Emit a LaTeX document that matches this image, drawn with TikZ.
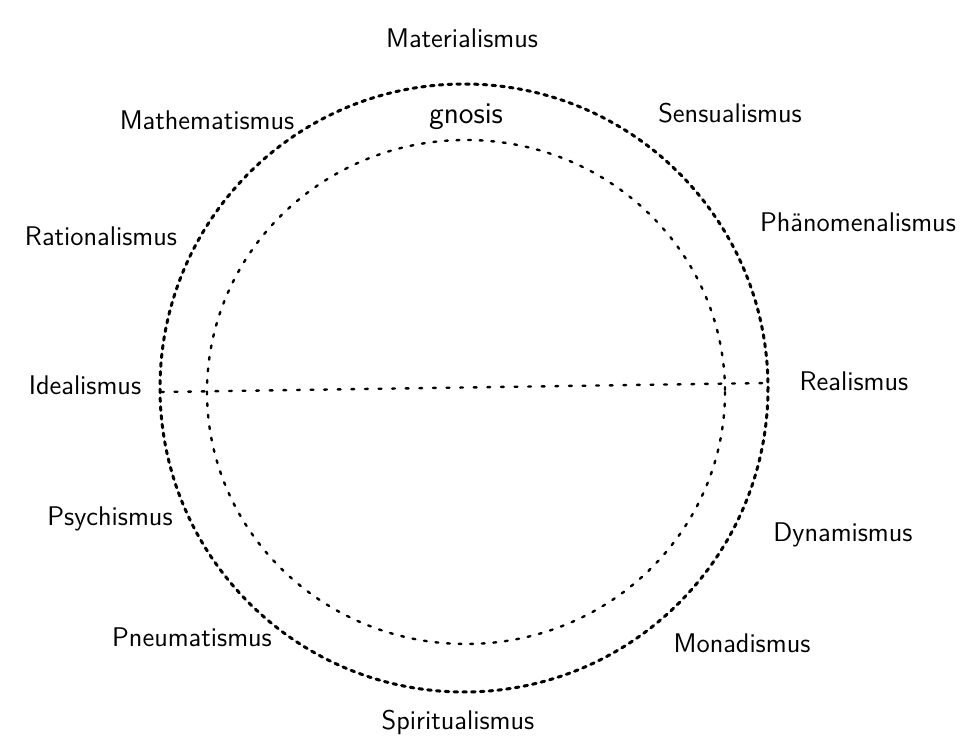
\documentclass[tikz,border=0pt]{standalone}
\usepackage{tikz}
\usetikzlibrary{calc}
\tikzset{outerdots/.style={line width=1.5pt,line cap=round,dash pattern=on 1.8pt off 2.6pt},
	innerdots/.style={line width=1.2pt,line cap=round,dash pattern=on 1.4pt off 4.4pt},
	middots/.style={line width=1.2pt,line cap=round,dash pattern=on 1.4pt off 5.4pt},
	lbl/.style={font=\sffamily\fontsize{13.5}{15}\selectfont,inner sep=1pt}}

\begin{document}
\begin{tikzpicture}[x=0.5pt,y=-0.5pt]
				\useasboundingbox (0,0) rectangle (975,747);
				\draw[outerdots] (464,388) circle [radius=304];
				\draw[innerdots] (466,392) ellipse [x radius=259,y radius=252];
				\coordinate (west) at (161,392);
				\coordinate (east) at (768,383);
				\draw[middots] (west) -- (east);
				\node[lbl] (mat) at (462,38){Materialismus};
				\node[lbl] (gno) at (466,117){\fontsize{15}{17}\selectfont gnosis};
				\node[lbl] (mth) at (207,120){Mathematismus};
				\node[lbl] (sen) at (730,113){Sensualismus};
				\node[lbl] (rat) at (101,236){Rationalismus};
				\node[lbl] (phae) at (858,222){Phänomenalismus};
				\node[lbl] (ide) at (85,385){Idealismus};
				\node[lbl] (rea) at (854,381){Realismus};
				\node[lbl] (psy) at (110,519){Psychismus};
				\node[lbl] (dyn) at (843,535){Dynamismus};
				\node[lbl] (pne) at (192,637){Pneumatismus};
				\node[lbl] (mon) at (742,643){Monadismus};
				\node[lbl] (spi) at (458,722){Spiritualismus};
			\end{tikzpicture}
\end{document}
